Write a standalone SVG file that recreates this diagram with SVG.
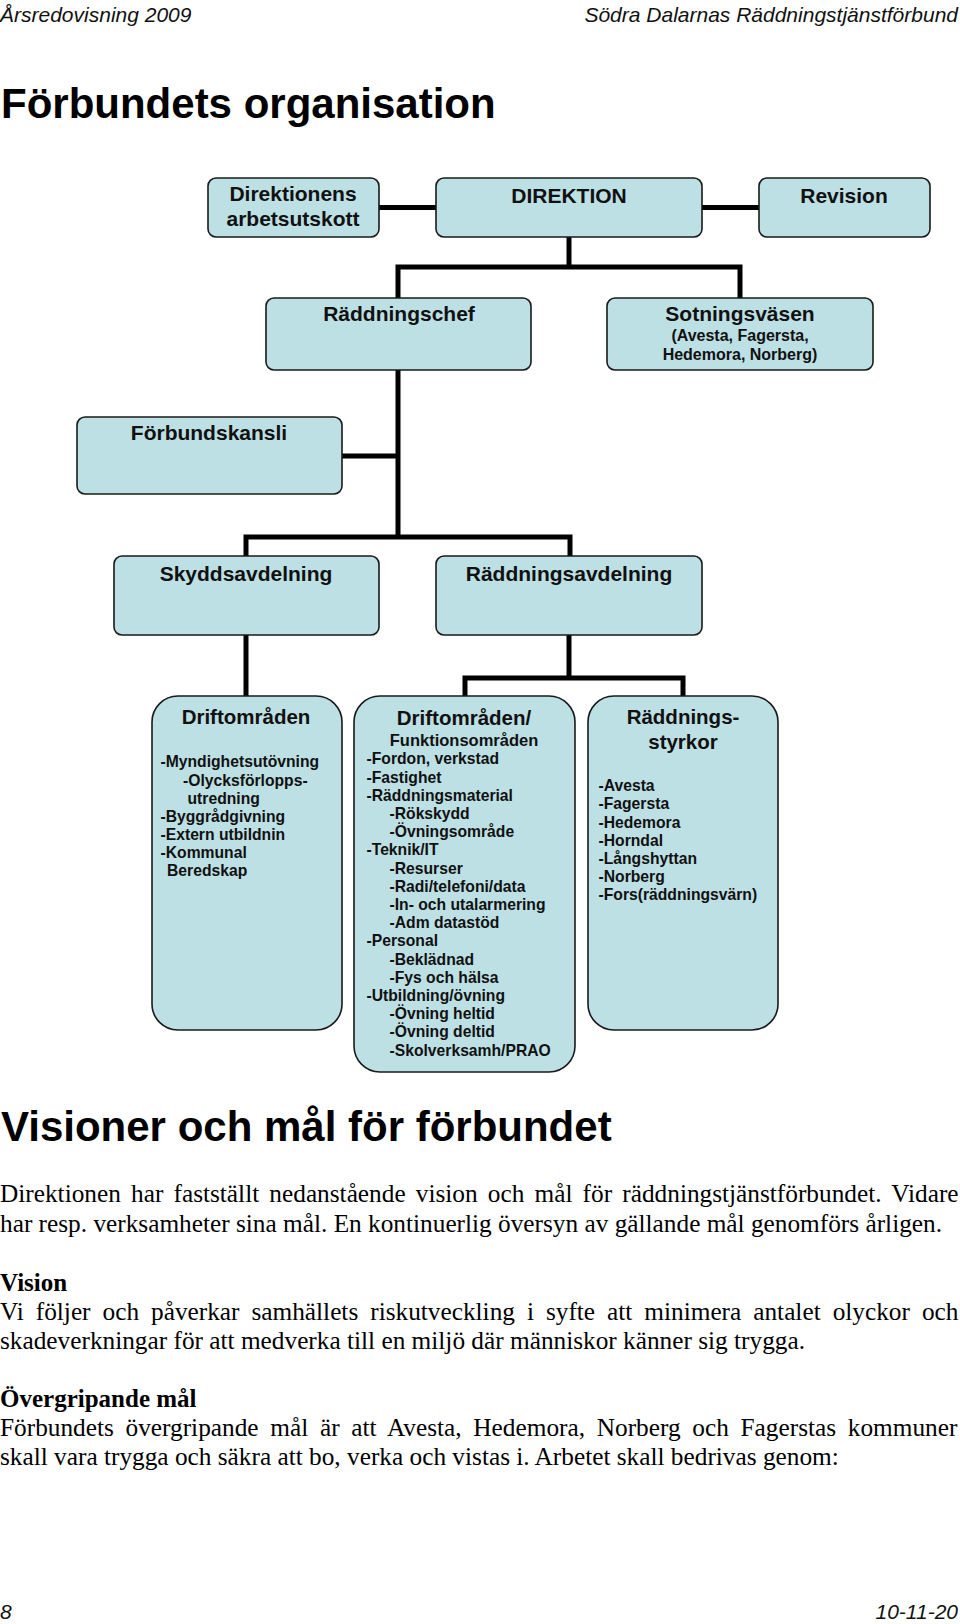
<svg xmlns="http://www.w3.org/2000/svg" width="960" height="1624" viewBox="0 0 960 1624">
<style>
.hdr{font-family:"Liberation Sans",Arial,Helvetica,sans-serif;font-style:italic;font-size:21px;fill:#111}
.h1{font-family:"Liberation Sans",Arial,Helvetica,sans-serif;font-weight:bold;font-size:42px;fill:#000}
.box{fill:#bde0e4;stroke:#1a1a1a;stroke-width:1.6}
.t{font-family:"Liberation Sans",Arial,Helvetica,sans-serif;font-weight:bold;font-size:21px;fill:#111;text-anchor:middle}
.ts{font-family:"Liberation Sans",Arial,Helvetica,sans-serif;font-weight:bold;font-size:16px;fill:#111;text-anchor:middle}
.bt{font-family:"Liberation Sans",Arial,Helvetica,sans-serif;font-weight:bold;font-size:20.5px;fill:#111;text-anchor:middle}
.sub{font-family:"Liberation Sans",Arial,Helvetica,sans-serif;font-weight:bold;font-size:16.5px;fill:#111;text-anchor:middle}
.it{font-family:"Liberation Sans",Arial,Helvetica,sans-serif;font-weight:bold;font-size:15.7px;fill:#111}
.conn{fill:none;stroke:#000;stroke-width:5;stroke-linejoin:miter;stroke-linecap:butt}
.body{font-family:"Liberation Serif","Times New Roman",Times,serif;font-size:25.3px;fill:#000}
.bb{font-family:"Liberation Serif","Times New Roman",Times,serif;font-size:25px;font-weight:bold;fill:#000}
</style>

<text class="hdr" x="0" y="22">Årsredovisning 2009</text>
<text class="hdr" x="958" y="22" text-anchor="end">Södra Dalarnas Räddningstjänstförbund</text>
<text class="h1" x="1" y="118">Förbundets organisation</text>

<g id="connectors">
<path class="conn" d="M379,207.5 H436"/>
<path class="conn" d="M702,207.5 H759"/>
<path class="conn" d="M569,237 V267"/>
<path class="conn" d="M398,298 V267 H740 V298"/>
<path class="conn" d="M398,370 V537"/>
<path class="conn" d="M342,456 H398"/>
<path class="conn" d="M246,556 V537 H570 V556"/>
<path class="conn" d="M246,635 V696"/>
<path class="conn" d="M569,635 V678"/>
<path class="conn" d="M465,696 V678 H683 V696"/>
</g>

<g id="n-arbetsutskott">
<rect class="box" x="208" y="178" width="171" height="59" rx="8"/>
<text class="t" x="293" y="201">Direktionens</text>
<text class="t" x="293" y="226">arbetsutskott</text>
</g>
<g id="n-direktion">
<rect class="box" x="436" y="178" width="266" height="59" rx="8"/>
<text class="t" x="569" y="203">DIREKTION</text>
</g>
<g id="n-revision">
<rect class="box" x="759" y="178" width="171" height="59" rx="8"/>
<text class="t" x="844" y="203">Revision</text>
</g>
<g id="n-raddningschef">
<rect class="box" x="266" y="298" width="265" height="72" rx="8"/>
<text class="t" x="399" y="321">Räddningschef</text>
</g>
<g id="n-sotning">
<rect class="box" x="607" y="298" width="266" height="72" rx="8"/>
<text class="t" x="740" y="321">Sotningsväsen</text>
<text class="ts" x="740" y="341">(Avesta, Fagersta,</text>
<text class="ts" x="740" y="360">Hedemora, Norberg)</text>
</g>
<g id="n-forbundskansli">
<rect class="box" x="77" y="417" width="265" height="77" rx="8"/>
<text class="t" x="209" y="440">Förbundskansli</text>
</g>
<g id="n-skydd">
<rect class="box" x="114" y="556" width="265" height="79" rx="8"/>
<text class="t" x="246" y="581">Skyddsavdelning</text>
</g>
<g id="n-raddningsavd">
<rect class="box" x="436" y="556" width="266" height="79" rx="8"/>
<text class="t" x="569" y="581">Räddningsavdelning</text>
</g>

<g id="n-driftomraden">
<rect class="box" x="152" y="696" width="190" height="334" rx="26"/>
<text class="bt" x="246" y="724">Driftområden</text>
<text class="it" x="160.5" y="767">-Myndighetsutövning</text>
<text class="it" x="183" y="785.5">-Olycksförlopps-</text>
<text class="it" x="187.5" y="803.5">utredning</text>
<text class="it" x="160.5" y="821.5">-Byggrådgivning</text>
<text class="it" x="160.5" y="840">-Extern utbildnin</text>
<text class="it" x="160.5" y="858">-Kommunal</text>
<text class="it" x="167" y="876">Beredskap</text>
</g>

<g id="n-funktion">
<rect class="box" x="354" y="696" width="221" height="376" rx="26"/>
<text class="bt" x="464" y="725">Driftområden/</text>
<text class="sub" x="464" y="746">Funktionsområden</text>
<text class="it" x="366.5" y="764.3">-Fordon, verkstad</text>
<text class="it" x="366.5" y="782.5">-Fastighet</text>
<text class="it" x="366.5" y="800.7">-Räddningsmaterial</text>
<text class="it" x="389.5" y="818.9">-Rökskydd</text>
<text class="it" x="389.5" y="837.1">-Övningsområde</text>
<text class="it" x="366.5" y="855.3">-Teknik/IT</text>
<text class="it" x="389.5" y="873.5">-Resurser</text>
<text class="it" x="389.5" y="891.7">-Radi/telefoni/data</text>
<text class="it" x="389.5" y="909.9">-In- och utalarmering</text>
<text class="it" x="389.5" y="928.1">-Adm datastöd</text>
<text class="it" x="366.5" y="946.3">-Personal</text>
<text class="it" x="389.5" y="964.5">-Beklädnad</text>
<text class="it" x="389.5" y="982.7">-Fys och hälsa</text>
<text class="it" x="366.5" y="1000.9">-Utbildning/övning</text>
<text class="it" x="389.5" y="1019.1">-Övning heltid</text>
<text class="it" x="389.5" y="1037.3">-Övning deltid</text>
<text class="it" x="389.5" y="1055.5">-Skolverksamh/PRAO</text>
</g>

<g id="n-styrkor">
<rect class="box" x="588" y="696" width="190" height="334" rx="26"/>
<text class="bt" x="683" y="724">Räddnings-</text>
<text class="bt" x="683" y="749">styrkor</text>
<text class="it" x="598.5" y="791.2">-Avesta</text>
<text class="it" x="598.5" y="809.4">-Fagersta</text>
<text class="it" x="598.5" y="827.6">-Hedemora</text>
<text class="it" x="598.5" y="845.8">-Horndal</text>
<text class="it" x="598.5" y="864">-Långshyttan</text>
<text class="it" x="598.5" y="882.2">-Norberg</text>
<text class="it" x="598.5" y="900.4">-Fors(räddningsvärn)</text>
</g>

<text class="h1" x="1" y="1141">Visioner och mål för förbundet</text>
<text class="body" x="0" y="1202" word-spacing="3.85">Direktionen har fastställt nedanstående vision och mål för räddningstjänstförbundet. Vidare</text>
<text class="body" x="0" y="1231.5">har resp. verksamheter sina mål. En kontinuerlig översyn av gällande mål genomförs årligen.</text>
<text class="bb" x="0" y="1291">Vision</text>
<text class="body" x="0" y="1320" word-spacing="5.65">Vi följer och påverkar samhällets riskutveckling i syfte att minimera antalet olyckor och</text>
<text class="body" x="0" y="1349">skadeverkningar för att medverka till en miljö där människor känner sig trygga.</text>
<text class="bb" x="0" y="1407">Övergripande mål</text>
<text class="body" x="0" y="1436" word-spacing="5.4">Förbundets övergripande mål är att Avesta, Hedemora, Norberg och Fagerstas kommuner</text>
<text class="body" x="0" y="1465">skall vara trygga och säkra att bo, verka och vistas i. Arbetet skall bedrivas genom:</text>

<text class="hdr" x="0" y="1619">8</text>
<text class="hdr" x="958" y="1619" text-anchor="end">10-11-20</text>
</svg>
